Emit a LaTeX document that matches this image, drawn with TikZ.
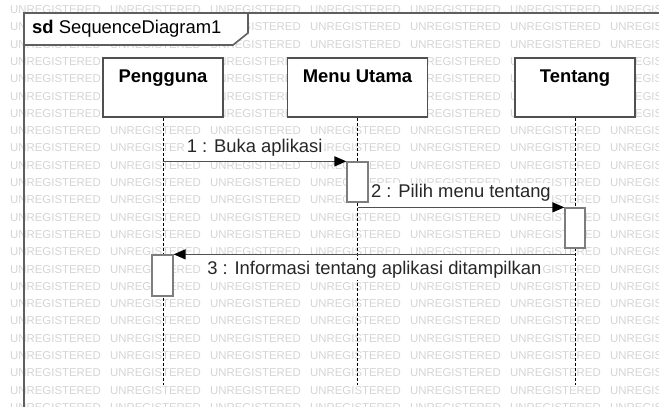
\documentclass[tikz,border=0pt]{standalone}
\usepackage{fontspec}
\setmainfont{Liberation Sans}
\usetikzlibrary{positioning, arrows.meta}
\definecolor{wmgray}{RGB}{212,212,212}
\definecolor{framegray}{RGB}{95,95,95}
\definecolor{linegray}{RGB}{80,80,80}
\definecolor{actgray}{RGB}{125,125,125}

\begin{document}
\begin{tikzpicture}[x=1pt, y=-1pt,
  head/.style={
    rectangle, draw=linegray, line width=1.3pt, fill=white,
    minimum width=120pt, minimum height=59pt, inner sep=0pt
  },
  headtxt/.style={inner sep=0pt, font=\fontsize{18.4}{22}\selectfont\bfseries},
  act/.style={rectangle, draw=actgray, line width=1.3pt, fill=white, minimum width=21pt, inner sep=0pt},
  life/.style={black, line width=1pt, dash pattern=on 3pt off 2pt},
  msg/.style={-{Triangle[length=12pt, width=10pt, color=black]}, line width=1.4pt, linegray},
  msgtxt/.style={font=\fontsize{18.4}{22}\selectfont, fill=white, inner sep=1.5pt, text=black!85},
  frame/.style={framegray, line width=1.6pt},
  wm/.style={font=\fontsize{11.4}{12}\selectfont, text=wmgray, inner sep=0pt, anchor=west}
]
\useasboundingbox (0,0) rectangle (659,407);
\clip (0,0) rectangle (659,407);

% watermark
\foreach \r in {0,...,23}
  \foreach \c in {0,...,6}
    \node[wm] (wm-\r-\c) at ({10+100*\c}, {9.6+17.3*\r}) {UNREGISTERED};

% frame
\draw[frame] (659,13) -- (24,13) -- (24,407);
\draw[frame, fill=white] (24,13) -- (248,13) -- (248,33) -- (233,45) -- (24,45) -- cycle;
\node[anchor=west, inner sep=0pt, font=\fontsize{18.4}{22}\selectfont] (sdtitle) at (32,29) {\textbf{sd} SequenceDiagram1};

% lifelines
\node[head] (peng) at (163,87.5) {};
\node[head, minimum width=140pt] (menu) at (357.5,87.5) {};
\node[head] (tentang) at (575,87.5) {};

\node[headtxt, below=12pt of peng.north] (pengtxt) {Pengguna};
\node[headtxt, below=12pt of menu.north] (menutxt) {Menu Utama};
\node[headtxt, below=12pt of tentang.north] (tentangtxt) {Tentang};

\coordinate (pengend) at (163,385);
\coordinate (menuend) at (357.5,385);
\coordinate (tentangend) at (575,385);

\draw[life] (peng.south) -- (pengend);
\draw[life] (menu.south) -- (menuend);
\draw[life] (tentang.south) -- (tentangend);

% activations
\node[act, minimum height=40pt] (act1) at (357.5,182) {};
\node[act, minimum height=40pt, minimum width=20pt] (act2) at (575,228) {};
\node[act, minimum height=41pt] (act3) at (162.5,275.5) {};

% messages
\draw[msg] (peng.south |- act1.north west) -- (act1.north west)
  node[midway, above, msgtxt, yshift=3pt] (m1) {1 : Buka aplikasi};
\draw[msg] (act1.south |- act2.north west) -- (act2.north west)
  node[midway, above, msgtxt, yshift=4pt] (m2) {2 : Pilih menu tentang};
\draw[msg] (act2.south |- act3.north east) -- (act3.north east)
  node[midway, below, msgtxt, yshift=-5pt] (m3) {3 : Informasi tentang aplikasi ditampilkan};

\end{tikzpicture}
\end{document}
